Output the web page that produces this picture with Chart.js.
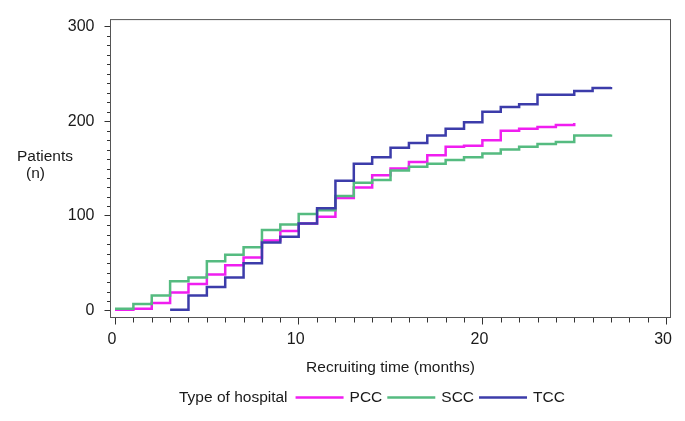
<!DOCTYPE html>
<html>
<head>
<meta charset="utf-8">
<script src="https://cdn.jsdelivr.net/npm/chart.js@4.4.1/dist/chart.umd.min.js"></script>
<style>
  html, body { margin: 0; padding: 0; background: #fff; }
  #wrap { width: 685px; height: 421px; }
</style>
</head>
<body>
<div id="wrap"><canvas id="chartRecruit"></canvas></div>
<script>
// Patients recruited (cumulative) by month, per hospital type
const pccMonths   = [0, 1, 2, 3, 4, 5, 6, 7, 8, 9, 10, 11, 12, 13, 14, 15, 16, 17, 18, 19, 20, 21, 22, 23, 24, 25];
const pccPatients = [1, 2, 8, 19, 28, 38, 48, 56, 74, 84, 92, 99, 119, 130, 143, 150, 157, 164, 173, 174, 180, 190, 192, 194, 196, 198];

const sccMonths   = [0, 1, 2, 3, 4, 5, 6, 7, 8, 9, 10, 11, 12, 13, 14, 15, 16, 17, 18, 19, 20, 21, 22, 23, 24, 25, 26, 27];
const sccPatients = [2, 7, 16, 31, 35, 52, 59, 67, 85, 91, 102, 106, 121, 135, 138, 148, 152, 155, 159, 162, 166, 170, 173, 176, 178, 185, 185, 186];

const tccMonths   = [3, 4, 5, 6, 7, 8, 9, 10, 11, 12, 13, 14, 15, 16, 17, 18, 19, 20, 21, 22, 23, 24, 25, 26, 27];
const tccPatients = [1, 16, 25, 35, 50, 72, 78, 92, 108, 137, 155, 162, 172, 177, 185, 192, 199, 210, 215, 218, 228, 228, 232, 235, 236];

const seriesNames  = ['PCC', 'SCC', 'TCC'];
const seriesColors = ['#f01ef0', '#55bb80', '#3c3caa'];

const xMajorTicks = [0, 10, 20, 30];
const yMajorTicks = [0, 100, 200, 300];

const FONT = 'Arial, "Liberation Sans", sans-serif';

const toPoints = (xs, ys) => xs.map((m, i) => ({ x: m, y: ys[i] }));

// minor ticks, frame, side title and legend
const decorations = {
    id: 'decorations',
    afterDraw(chart) {
        const { ctx, chartArea: a, scales: { x, y } } = chart;
        ctx.save();

        // minor ticks
        ctx.strokeStyle = '#333';
        ctx.lineWidth = 1;
        ctx.beginPath();
        for (let v = 0; v <= 30; v++) {
            if (xMajorTicks.includes(v)) continue;
            const px = Math.round(x.getPixelForValue(v)) + 0.5;
            ctx.moveTo(px, a.bottom);
            ctx.lineTo(px, a.bottom + 5);
        }
        for (let v = 0; v <= 300; v += 10) {
            if (yMajorTicks.includes(v)) continue;
            const py = Math.round(y.getPixelForValue(v)) + 0.5;
            ctx.moveTo(a.left, py);
            ctx.lineTo(a.left - 3.5, py);
        }
        ctx.stroke();

        // frame
        ctx.strokeStyle = '#555';
        ctx.strokeRect(a.left, a.top, a.right - a.left, a.bottom - a.top);

        // y title, horizontal
        ctx.fillStyle = '#1a1a1a';
        ctx.font = '15.5px ' + FONT;
        ctx.textBaseline = 'alphabetic';
        ctx.textAlign = 'left';
        ctx.fillText('Patients', 17, 161);
        ctx.fillText('(n)', 26, 178);

        // legend
        let lx = 179;
        const ly = 397.5;
        ctx.textBaseline = 'middle';
        ctx.fillText('Type of hospital', lx, ly);
        lx += ctx.measureText('Type of hospital').width + 8;
        seriesNames.forEach((name, i) => {
            ctx.strokeStyle = seriesColors[i];
            ctx.lineWidth = 2.5;
            ctx.beginPath();
            ctx.moveTo(lx, ly);
            ctx.lineTo(lx + 48, ly);
            ctx.stroke();
            lx += 54;
            ctx.fillText(name, lx, ly);
            lx += ctx.measureText(name).width + 5;
        });

        ctx.restore();
    }
};

const datasets = [
    toPoints(pccMonths, pccPatients),
    toPoints(sccMonths, sccPatients),
    toPoints(tccMonths, tccPatients)
].map((pts, i) => ({
    label: seriesNames[i],
    data: pts,
    borderColor: seriesColors[i],
    borderWidth: 2.5,
    stepped: 'before',
    pointRadius: 0,
    fill: false,
    order: 2 - i
}));

new Chart(document.getElementById('chartRecruit'), {
    type: 'line',
    data: { datasets: datasets },
    options: {
        responsive: true,
        maintainAspectRatio: false,
        animation: false,
        events: [],
        layout: { padding: { left: 0, top: 15.5, right: 14.5, bottom: 43.5 } },
        plugins: {
            legend: { display: false },
            tooltip: { enabled: false }
        },
        scales: {
            x: {
                type: 'linear',
                min: -0.245,
                max: 30.24,
                afterFit: (s) => { s.height = 60; },
                afterBuildTicks: (s) => { s.ticks = xMajorTicks.map(v => ({ value: v })); },
                ticks: {
                    includeBounds: false,
                    color: '#1a1a1a',
                    font: { family: FONT, size: 16 },
                    padding: 5,
                    labelOffset: -3,
                    maxRotation: 0
                },
                grid: { drawOnChartArea: false, tickLength: 7, color: '#333' },
                border: { display: false },
                title: {
                    display: true,
                    text: 'Recruiting time (months)',
                    color: '#1a1a1a',
                    font: { family: FONT, size: 15.5 },
                    padding: { top: 0, bottom: 0 }
                }
            },
            y: {
                type: 'linear',
                min: -7.3,
                max: 307.3,
                afterFit: (s) => { s.width = 110.5; },
                afterBuildTicks: (s) => { s.ticks = yMajorTicks.map(v => ({ value: v })); },
                ticks: {
                    includeBounds: false,
                    color: '#1a1a1a',
                    font: { family: FONT, size: 16 },
                    padding: 10
                },
                grid: { drawOnChartArea: false, tickLength: 6, color: '#333' },
                border: { display: false }
            }
        }
    },
    plugins: [decorations]
});
</script>
</body>
</html>
